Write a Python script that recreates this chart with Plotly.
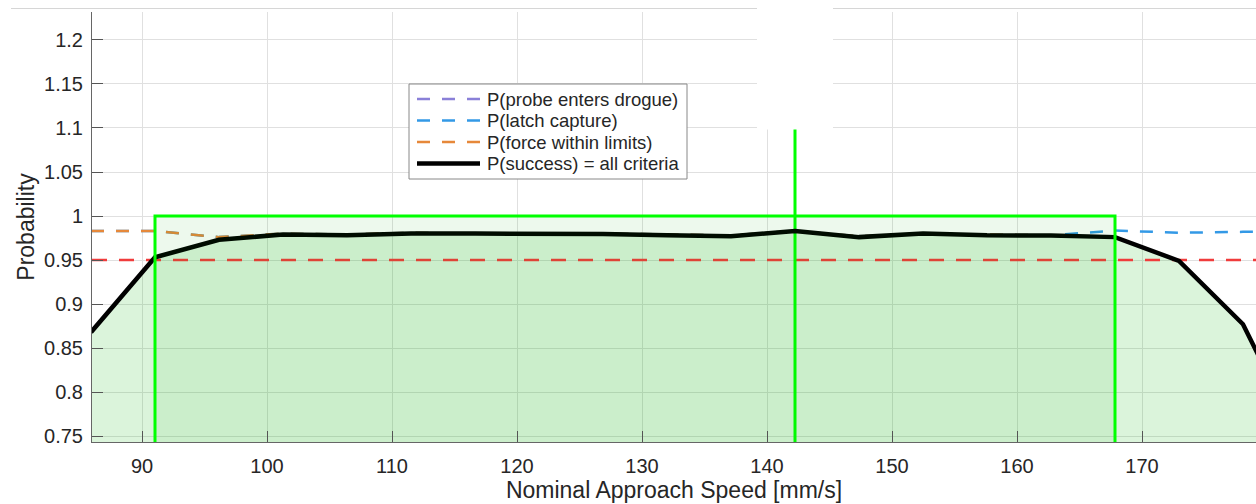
import plotly.graph_objects as go

# ---- data ----
speed = [85.92, 91.04, 96.16, 101.28, 106.40, 111.52, 116.64, 121.76, 126.88, 132.00,
         137.12, 142.24, 147.36, 152.48, 157.60, 162.72, 167.84, 172.96, 178.08, 183.20]
p_success = [0.868, 0.953, 0.973, 0.979, 0.978, 0.980, 0.980, 0.980, 0.9795, 0.978,
             0.977, 0.983, 0.976, 0.980, 0.978, 0.9777, 0.976, 0.949, 0.877, 0.730]
p_probe = [0.868, 0.953, 0.973, 0.979, 0.978, 0.980, 0.980, 0.980, 0.9795, 0.978,
           0.977, 0.983, 0.976, 0.980, 0.978, 0.9777, 0.976, 0.949, 0.877, 0.730]
p_latch = [0.983, 0.983, 0.976, 0.980, 0.979, 0.981, 0.980, 0.980, 0.980, 0.979,
           0.978, 0.983, 0.977, 0.980, 0.979, 0.978, 0.9835, 0.981, 0.982, 0.982]
p_force = [0.983, 0.983, 0.976, 0.980, 0.979, 0.981, 0.980, 0.980, 0.980, 0.979,
           0.978, 0.983, 0.977, 0.980, 0.979, 0.978, 0.976, 0.949, 0.877, 0.730]
threshold = 0.95
window_lo, window_hi = 91.04, 167.84
optimal_speed = 142.24
x_range = [86.0, 179.12]
y_range = [0.7432, 1.2318]
x_ticks = [90, 100, 110, 120, 130, 140, 150, 160, 170]
y_ticks = [0.75, 0.8, 0.85, 0.9, 0.95, 1.0, 1.05, 1.1, 1.15, 1.2]
y_tick_text = ["0.75", "0.8", "0.85", "0.9", "0.95", "1", "1.05", "1.1", "1.15", "1.2"]

series_names = ["P(probe enters drogue)", "P(latch capture)",
                "P(force within limits)", "P(success) = all criteria"]
series_colors = ["#8a80d8", "#3399e6", "#e6883a", "black"]

TXT = "#262626"
FONT = "Liberation Sans, Arial, sans-serif"
DASH = "13px,12px"

fig = go.Figure()

# area under success curve
fig.add_trace(go.Scatter(x=speed, y=p_success, mode="lines", line=dict(width=0),
                         fill="tozeroy", fillcolor="rgba(0,180,0,0.14)",
                         showlegend=False, hoverinfo="skip"))

for vals, name, col in zip([p_probe, p_latch, p_force], series_names[:3], series_colors[:3]):
    fig.add_trace(go.Scatter(x=speed, y=vals, mode="lines", name=name,
                             line=dict(color=col, width=2.5, dash=DASH)))

# threshold line
fig.add_trace(go.Scatter(x=x_range, y=[threshold, threshold], mode="lines",
                         line=dict(color="#f03c3c", width=2.5, dash="15px,12px"),
                         hoverinfo="skip"))

# optimal speed vertical line
fig.add_trace(go.Scatter(x=[optimal_speed, optimal_speed], y=[0.70, 1.25], mode="lines",
                         line=dict(color="#00ff00", width=3), hoverinfo="skip"))

fig.add_trace(go.Scatter(x=speed, y=p_success, mode="lines", name=series_names[3],
                         line=dict(color="black", width=4.5)))

# operating window rectangle
fig.add_trace(go.Scatter(x=[window_lo, window_lo, window_hi, window_hi, window_lo],
                         y=[0.70, 1.0, 1.0, 0.70, 0.70], mode="lines",
                         fill="toself", fillcolor="rgba(0,170,0,0.07)",
                         line=dict(color="#00ff00", width=3), hoverinfo="skip"))

L, R, T, B = 92, 0, 12, 62
W, H = 1256, 504
pw, ph = W - L - R, H - T - B


def px(xs):
    return (xs - L) / pw


def py(ys):
    return (H - B - ys) / ph


shapes = [
    dict(type="line", xref="paper", yref="paper", x0=px(11), x1=px(757),
         y0=py(8.5), y1=py(8.5), line=dict(color="#d6d6d6", width=1), layer="above"),
    dict(type="line", xref="paper", yref="paper", x0=px(833), x1=1.0,
         y0=py(8.5), y1=py(8.5), line=dict(color="#d6d6d6", width=1), layer="above"),
    dict(type="rect", xref="paper", yref="paper", x0=px(757), x1=px(833),
         y0=py(129.5), y1=py(-2), fillcolor="white", line=dict(width=0), layer="above"),
    # legend box
    dict(type="rect", xref="paper", yref="paper", x0=px(409), x1=px(687),
         y0=py(179), y1=py(84), fillcolor="white",
         line=dict(color="#888888", width=1), layer="above"),
]
annotations = []
row_y = [99, 120.5, 142, 163.5]
for i, (name, col) in enumerate(zip(series_names, series_colors)):
    is_solid = (i == 3)
    shapes.append(dict(type="line", xref="paper", yref="paper", x0=px(417), x1=px(480),
                       y0=py(row_y[i]), y1=py(row_y[i]), layer="above",
                       line=dict(color=col, width=4.5 if is_solid else 2.5,
                                 dash="solid" if is_solid else DASH)))
    annotations.append(dict(xref="paper", yref="paper", x=px(485), y=py(row_y[i]),
                            xanchor="left", yanchor="middle", showarrow=False,
                            text=name, font=dict(size=18.5, color=TXT, family=FONT)))

fig.update_layout(
    width=W, height=H,
    margin=dict(l=L, r=R, t=T, b=B),
    paper_bgcolor="white", plot_bgcolor="white",
    font=dict(family=FONT, color=TXT),
    showlegend=False,
    xaxis=dict(range=x_range, tickvals=x_ticks, ticks="inside", ticklen=11,
               tickcolor="#555555", showline=True, linecolor="#666666", linewidth=1,
               showgrid=True, gridcolor="#e0e0e0", gridwidth=1, zeroline=False,
               tickfont=dict(size=20, color=TXT), ticklabelstandoff=6,
               title=dict(text="Nominal Approach Speed [mm/s]", font=dict(size=23, color=TXT),
                          standoff=4)),
    yaxis=dict(range=y_range, tickvals=y_ticks, ticktext=y_tick_text, ticks="inside",
               ticklen=11, tickcolor="#555555", showline=True, linecolor="#666666",
               linewidth=1, showgrid=True, gridcolor="#e0e0e0", gridwidth=1,
               zeroline=False, tickfont=dict(size=20, color=TXT), ticklabelstandoff=4,
               title=dict(text="Probability", font=dict(size=23, color=TXT), standoff=3)),
    shapes=shapes,
    annotations=annotations,
)

fig.write_html(
    "out.html",
    config={"displayModeBar": False},
    post_script="document.body.style.margin='0';"
                "document.documentElement.style.overflow='hidden';"
                "document.body.style.overflow='hidden';",
)
